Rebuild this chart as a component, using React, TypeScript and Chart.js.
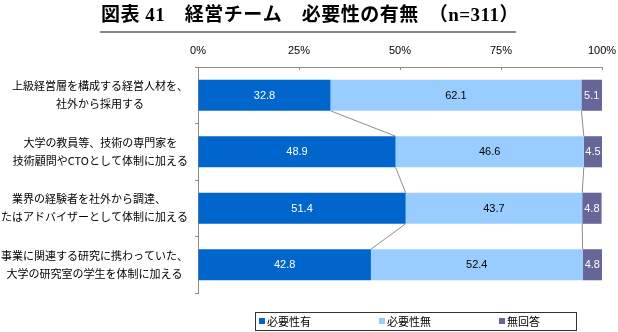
import React, { useEffect, useRef } from "react";
import { Chart, registerables } from "chart.js";

Chart.register(...registerables);

const TITLE = "図表 41　経営チーム　必要性の有無　（n=311）";
const categories: string[][] = [
  ["上級経営層を構成する経営人材を、", "社外から採用する"],
  ["大学の教員等、技術の専門家を", "技術顧問やCTOとして体制に加える"],
  ["業界の経験者を社外から調達、", "またはアドバイザーとして体制に加える"],
  ["事業に関連する研究に携わっていた、", "大学の研究室の学生を体制に加える"],
];
const seriesNames = ["必要性有", "必要性無", "無回答"];
const needed = [32.8, 48.9, 51.4, 42.8];
const notNeeded = [62.1, 46.6, 43.7, 52.4];
const noAnswer = [5.1, 4.5, 4.8, 4.8];
const xTickStep = 25;
const xMax = 100;

const colors = ["#0066CC", "#99CCFF", "#666699"];
const labelColors = ["#FFFFFF", "#000000", "#FFFFFF"];
const JP = "'Noto Sans CJK JP', sans-serif";
const LATIN = "'Liberation Sans', Arial, sans-serif";

const overlay = {
  id: "overlay",
  afterDatasetsDraw(chart: any) {
    const ctx = chart.ctx;
    ctx.save();
    ctx.strokeStyle = "#8c8c8c";
    ctx.lineWidth = 1;
    for (let d = 0; d < 2; d++) {
      const meta = chart.getDatasetMeta(d);
      for (let i = 0; i < meta.data.length - 1; i++) {
        const a = meta.data[i];
        const b = meta.data[i + 1];
        ctx.beginPath();
        ctx.moveTo(a.x, a.y + a.height / 2);
        ctx.lineTo(b.x, b.y - b.height / 2);
        ctx.stroke();
      }
    }
    ctx.font = `11px ${LATIN}`;
    ctx.textAlign = "center";
    ctx.textBaseline = "middle";
    chart.data.datasets.forEach((ds: any, d: number) => {
      const meta = chart.getDatasetMeta(d);
      meta.data.forEach((el: any, i: number) => {
        const cx = (el.x + el.base) / 2;
        ctx.fillStyle = labelColors[d];
        ctx.fillText(ds.data[i].toFixed(1), cx, el.y + 0.5);
      });
    });
    ctx.restore();
  },
  afterDraw(chart: any) {
    const ctx = chart.ctx;
    ctx.save();
    const xs = chart.scales.x;
    const ys = chart.scales.y;
    const area = chart.chartArea;
    ctx.strokeStyle = "#8c8c8c";
    ctx.lineWidth = 1;
    for (let v = xTickStep; v <= xMax; v += xTickStep) {
      const px = Math.round(xs.getPixelForValue(v)) + 0.5;
      ctx.beginPath();
      ctx.moveTo(px, area.top);
      ctx.lineTo(px, area.top + 3);
      ctx.stroke();
    }
    // category labels: block right-aligned, lines centred inside block
    ctx.fillStyle = "#000";
    ctx.font = `11px ${JP}`;
    ctx.textAlign = "center";
    ctx.textBaseline = "middle";
    (chart.data.labels as string[][]).forEach((lines, i) => {
      const y = ys.getPixelForValue(i);
      const w = Math.max(...lines.map((l) => ctx.measureText(l).width));
      const cx = area.left - 10 - w / 2;
      lines.forEach((l, k) => {
        ctx.fillText(l, cx, y + (k - (lines.length - 1) / 2) * 18);
      });
    });
    // title
    ctx.font = `bold 19px 'Liberation Serif', 'Noto Sans CJK JP', serif`;
    try {
      (ctx as any).letterSpacing = "0.5px";
    } catch (e) {}
    ctx.fillText(TITLE, 310, 16);
    try {
      (ctx as any).letterSpacing = "0px";
    } catch (e) {}
    ctx.strokeStyle = "#888888";
    ctx.lineWidth = 2;
    ctx.beginPath();
    ctx.moveTo(100, 32);
    ctx.lineTo(516, 32);
    ctx.stroke();
    // legend
    ctx.strokeStyle = "#333";
    ctx.lineWidth = 1;
    ctx.strokeRect(255.5, 312.5, 321, 18);
    const lx = [259, 379, 499];
    ctx.font = `11px ${JP}`;
    ctx.textAlign = "left";
    chart.data.datasets.forEach((ds: any, d: number) => {
      ctx.fillStyle = colors[d];
      ctx.fillRect(lx[d], 318, 6, 6);
      ctx.fillStyle = "#000";
      ctx.fillText(ds.label, lx[d] + 8, 321.5);
    });
    ctx.restore();
  },
};

export default function App() {
  const ref = useRef<HTMLCanvasElement>(null);
  useEffect(() => {
    const chart = new Chart(ref.current as HTMLCanvasElement, {
      type: "bar",
      data: {
        labels: categories,
        datasets: [needed, notNeeded, noAnswer].map((arr, d) => ({
          label: seriesNames[d],
          data: arr,
          backgroundColor: colors[d],
          borderWidth: 0,
          barPercentage: 0.55,
          categoryPercentage: 1,
        })),
      },
      options: {
        indexAxis: "y",
        responsive: false,
        animation: false,
        devicePixelRatio: 1,
        layout: { padding: { left: 0, top: 0, right: 16, bottom: 39 } },
        plugins: {
          legend: { display: false },
          title: { display: false },
          tooltip: { enabled: false },
        },
        scales: {
          x: {
            type: "linear",
            position: "top",
            stacked: true,
            min: 0,
            max: xMax,
            ticks: {
              stepSize: xTickStep,
              callback: (v: any) => v + "%",
              font: { family: LATIN, size: 11 },
              color: "#000",
              padding: 9,
            },
            grid: { drawOnChartArea: false, drawTicks: false, color: "#8c8c8c" },
            border: { color: "#8c8c8c" },
            afterFit: (s: any) => {
              s.height = 67;
              s.paddingLeft = 0;
              s.paddingRight = 0;
            },
          },
          y: {
            type: "category",
            stacked: true,
            offset: true,
            ticks: { display: false },
            grid: { drawOnChartArea: false, tickLength: 3, offset: true, color: "#8c8c8c" },
            border: { color: "#8c8c8c" },
            afterFit: (s: any) => {
              s.width = 198;
            },
          },
        },
      },
      plugins: [overlay],
    } as any);
    return () => chart.destroy();
  }, []);
  return (
    <div style={{ position: "fixed", left: 0, top: 0, width: 618, height: 332, background: "#fff" }}>
      <canvas ref={ref} width={618} height={332} />
    </div>
  );
}
